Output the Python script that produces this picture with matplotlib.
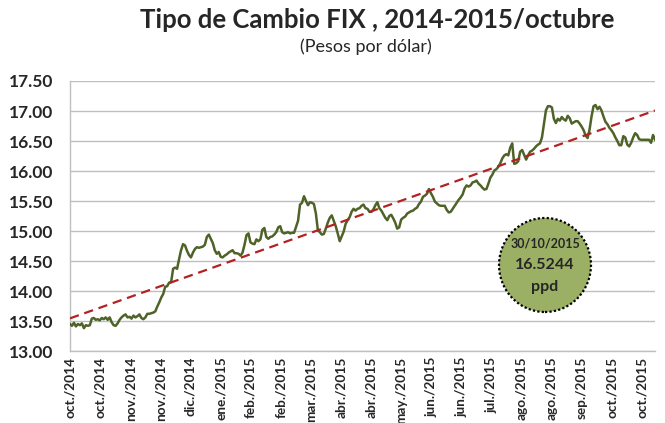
import numpy as np
import matplotlib
matplotlib.use("Agg")
import matplotlib.pyplot as plt
from matplotlib.patches import Ellipse

plt.rcParams['font.family'] = ['Lato', 'DejaVu Sans']

# tipo de cambio FIX diario (pesos por dolar), oct 2014 - 30 oct 2015
fix_oct_dic14 = [13.45, 13.42, 13.47, 13.41, 13.45, 13.43, 13.46, 13.38, 13.43, 13.42,
                 13.43, 13.54, 13.55, 13.52, 13.53, 13.51, 13.55, 13.53, 13.56, 13.52,
                 13.56, 13.48, 13.43, 13.42, 13.46, 13.52, 13.56, 13.59, 13.61, 13.56,
                 13.57, 13.54, 13.59, 13.56, 13.58, 13.61, 13.55, 13.53, 13.56, 13.62,
                 13.62, 13.63, 13.64, 13.66, 13.74, 13.81, 13.89, 13.95, 14.07, 14.08,
                 14.14, 14.15, 14.37, 14.39, 14.37, 14.53, 14.68, 14.78, 14.76, 14.67]
fix_dic_mar15 = [14.60, 14.56, 14.64, 14.70, 14.73, 14.72, 14.73, 14.74, 14.77, 14.90,
                 14.94, 14.87, 14.80, 14.68, 14.62, 14.65, 14.57, 14.56, 14.59, 14.61,
                 14.64, 14.66, 14.68, 14.63, 14.63, 14.62, 14.59, 14.64, 14.77, 14.93,
                 14.96, 14.81, 14.79, 14.78, 14.86, 14.83, 14.86, 15.02, 15.05, 14.90,
                 14.87, 14.90, 14.91, 14.94, 14.98, 15.06, 15.08, 14.98, 14.96, 14.97,
                 14.98, 14.96, 14.97, 14.97, 15.07, 15.17, 15.44]
fix_mar_jun15 = [15.47, 15.58, 15.50, 15.43, 15.48, 15.47, 15.45, 15.29, 15.01, 14.98,
                 14.94, 14.95, 15.04, 15.14, 15.22, 15.26, 15.17, 15.08, 14.96, 14.83,
                 14.91, 14.99, 15.12, 15.18, 15.23, 15.32, 15.37, 15.34, 15.37, 15.38,
                 15.42, 15.44, 15.38, 15.37, 15.32, 15.32, 15.36, 15.43, 15.48, 15.38,
                 15.34, 15.28, 15.22, 15.18, 15.25, 15.27, 15.21, 15.14, 15.04, 15.06,
                 15.19, 15.22, 15.24, 15.29, 15.31, 15.33, 15.34, 15.37, 15.39, 15.45]
fix_jun_ago15 = [15.49, 15.57, 15.59, 15.62, 15.70, 15.63, 15.57, 15.49, 15.46, 15.43,
                 15.42, 15.42, 15.42, 15.35, 15.31, 15.32, 15.37, 15.42, 15.47, 15.52,
                 15.56, 15.61, 15.71, 15.76, 15.74, 15.76, 15.81, 15.82, 15.84, 15.79,
                 15.76, 15.72, 15.69, 15.70, 15.79, 15.89, 15.94, 16.01, 16.03, 16.07,
                 16.13, 16.21, 16.26, 16.28, 16.26, 16.39, 16.46, 16.12, 16.13, 16.16,
                 16.32, 16.35, 16.27, 16.19, 16.26, 16.32, 16.34, 16.37, 16.41, 16.44]
fix_ago_oct15 = [16.46, 16.56, 16.78, 17.01, 17.08, 17.08, 17.06, 16.87, 16.80, 16.87,
                 16.84, 16.90, 16.86, 16.84, 16.92, 16.88, 16.79, 16.81, 16.83, 16.83,
                 16.79, 16.74, 16.68, 16.59, 16.55, 16.69, 16.91, 17.08, 17.10, 17.03,
                 17.07, 17.01, 16.91, 16.82, 16.78, 16.72, 16.68, 16.63, 16.56, 16.50,
                 16.43, 16.43, 16.58, 16.56, 16.44, 16.41, 16.47, 16.56, 16.63, 16.60,
                 16.53, 16.52, 16.52, 16.52, 16.52, 16.52, 16.47, 16.60, 16.5244]

tick_labels = ['oct./2014', 'oct./2014', 'nov./2014', 'nov./2014', 'dic./2014',
               'ene./2015', 'feb./2015', 'feb./2015', 'mar./2015', 'abr./2015',
               'abr./2015', 'may./2015', 'jun./2015', 'jun./2015', 'jul./2015',
               'ago./2015', 'ago./2015', 'sep./2015', 'oct./2015', 'oct./2015']

fecha_final = '30/10/2015'
valor_final = '16.5244'

fix = np.array(fix_oct_dic14 + fix_dic_mar15 + fix_mar_jun15 + fix_jun_ago15 + fix_ago_oct15)
x = np.arange(len(fix))

# tendencia lineal (como la de excel)
m, b = np.polyfit(x, fix, 1)

fig = plt.figure(figsize=(6.65, 4.23), dpi=100)
ax = fig.add_axes([70/665, 72/423, 585/665, 270/423])

ax.plot(x, fix, color='#4F6228', lw=1.8, zorder=3)
ax.plot(x, m*x + b, color='#B22222', lw=1.6, ls=(0, (4.2, 2.6)), zorder=4)

ax.set_xlim(0, len(fix) - 1)
ax.set_ylim(13.0, 17.5)
ax.set_yticks(np.arange(13.0, 17.51, 0.5))
ax.set_yticklabels(['%.2f' % v for v in np.arange(13.0, 17.51, 0.5)],
                   fontsize=12.5, fontweight='bold', color='#262626')
paso = (len(fix) - 1) / 585 * 30.1
ax.set_xticks(np.arange(len(tick_labels)) * paso)
ax.set_xticklabels(tick_labels, rotation=90, fontsize=9.8, fontweight='bold', color='#262626')
ax.tick_params(length=0)
ax.tick_params(axis='x', pad=4)
ax.tick_params(axis='y', pad=12)

ax.grid(axis='y', color='#BFBFBF', lw=1)
ax.set_axisbelow(True)
for s in ['top', 'right']:
    ax.spines[s].set_visible(False)
for s in ['left', 'bottom']:
    ax.spines[s].set_color('#BFBFBF')
    ax.spines[s].set_linewidth(1)

# circulo con el ultimo dato
circ = Ellipse((475/585, 86/270), 92/585, 94/270, transform=ax.transAxes,
               facecolor='#9BB065', edgecolor='black', lw=1.6, ls=(0, (1, 1)), zorder=5)
ax.add_patch(circ)
ax.text(475/585, 108/270, fecha_final, transform=ax.transAxes, ha='center', va='center',
        fontsize=9, fontweight='bold', color='#262626', zorder=6)
ax.text(475/585, 86/270, valor_final, transform=ax.transAxes, ha='center', va='center',
        fontsize=11.5, fontweight='bold', color='#262626', zorder=6)
ax.text(475/585, 64/270, 'ppd', transform=ax.transAxes, ha='center', va='center',
        fontsize=11.5, fontweight='bold', color='#262626', zorder=6)

fig.text(377/665, 1 - 20/423, 'Tipo de Cambio FIX , 2014-2015/octubre', ha='center', va='center',
         fontsize=18.5, fontweight='bold', color='#262626')
fig.text(366/665, 1 - 47/423, '(Pesos por dólar)', ha='center', va='center',
         fontsize=13, color='#262626')

fig.savefig('out.png', dpi=100)
